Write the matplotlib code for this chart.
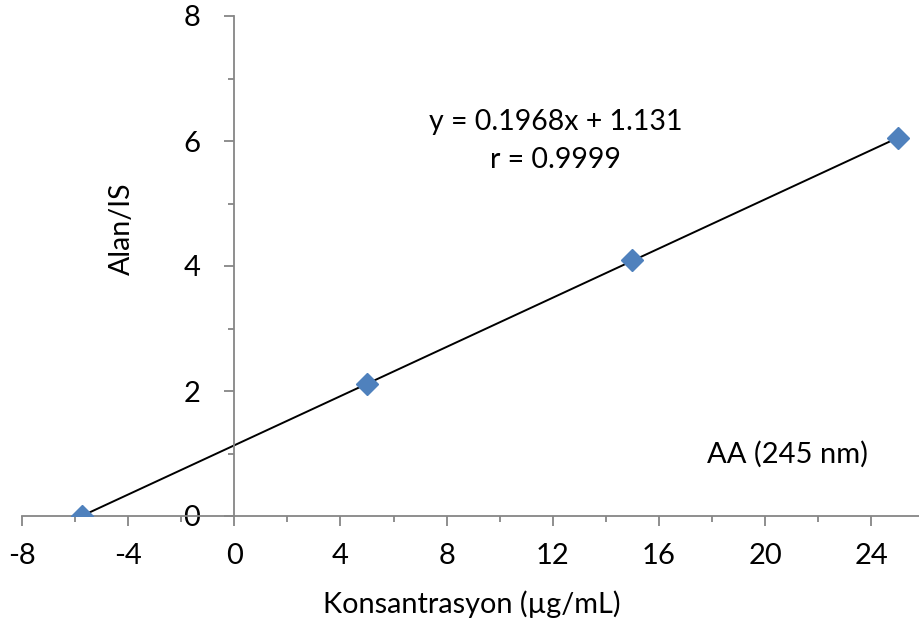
import numpy as np
import matplotlib.pyplot as plt
from matplotlib.ticker import MultipleLocator

plt.rcParams['font.family'] = ['Lato', 'DejaVu Sans']
plt.rcParams['axes.unicode_minus'] = False

# veri
konsantrasyon = [-5.75, 5, 15, 25]
alan_is = [0.0, 2.12, 4.10, 6.05]
egim = 0.1968
kesim = 1.131
r_deger = 0.9999

fig = plt.figure(figsize=(9.19, 6.31), dpi=100)
ax = fig.add_axes([22 / 919, 1 - 516 / 631, 1 - 22 / 919, (516 - 16) / 631])

# trend cizgisi
xs = np.array([min(konsantrasyon), max(konsantrasyon)])
ax.plot(xs, egim * xs + kesim, color='black', lw=1.4, zorder=2)
ax.plot(konsantrasyon, alan_is, linestyle='none', marker='D', ms=11,
        color='#4F81BD', markeredgecolor='#4F81BD', zorder=3)

ax.set_xlim(-8, 25.8)
ax.set_ylim(0, 8)

# eksenler orijinden geciyor
for s in ['top', 'right']:
    ax.spines[s].set_visible(False)
ax.spines['left'].set_position(('data', 0))
ax.spines['bottom'].set_position(('data', 0))
for s in ['left', 'bottom']:
    ax.spines[s].set_color('#868686')
    ax.spines[s].set_linewidth(1.3)

ax.xaxis.set_major_locator(MultipleLocator(4))
ax.xaxis.set_minor_locator(MultipleLocator(2))
ax.yaxis.set_major_locator(MultipleLocator(2))
ax.yaxis.set_minor_locator(MultipleLocator(1))
ax.tick_params(which='both', direction='out', color='#868686', width=1.3,
               labelsize=21)
ax.tick_params(which='major', length=7.5)
ax.tick_params(which='minor', length=4.5)
ax.tick_params(axis='x', pad=12)
ax.tick_params(axis='y', pad=17)

fig.text(472 / 919, 1 - 604 / 631, 'Konsantrasyon (µg/mL)', ha='center',
         va='center', fontsize=20.8)
fig.text(122 / 919, 1 - 229 / 631, 'Alan/IS', ha='center', va='center',
         rotation=90, fontsize=20.5)

ax.text(12.1, 6.3, f'y = {egim}x + {kesim}', ha='center', va='center',
        fontsize=20.5)
ax.text(12.1, 5.7, f'r = {r_deger}', ha='center', va='center', fontsize=20.5)
ax.text(20.85, 0.98, 'AA (245 nm)', ha='center', va='center', fontsize=21)

fig.savefig('out.png', dpi=100)
